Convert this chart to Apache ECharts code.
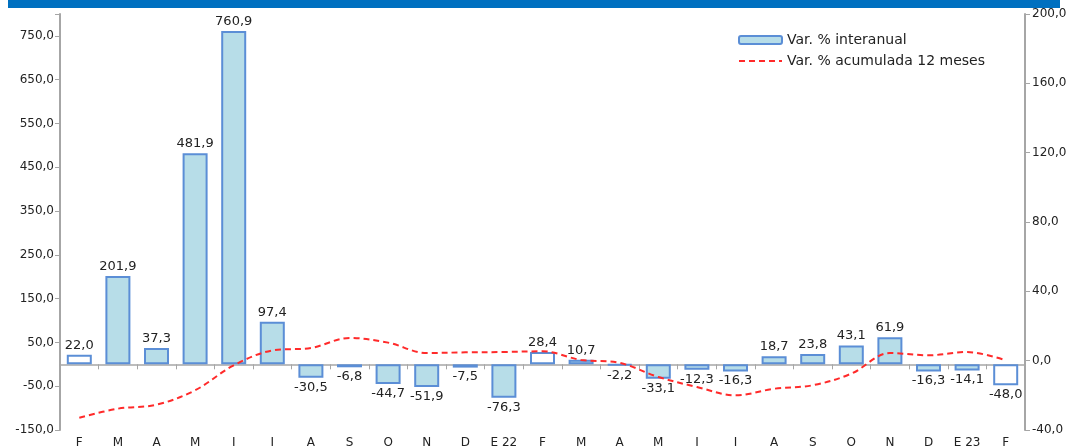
<!DOCTYPE html>
<html>
<head>
<meta charset="utf-8">
<script src="https://cdn.jsdelivr.net/npm/echarts@6/dist/echarts.min.js"></script>
<style>
  html, body { margin: 0; padding: 0; background: #fff; }
  #chart { width: 1067px; height: 446px; }
</style>
</head>
<body>
<div id="chart"></div>
<script>
// months, Feb 2021 .. Feb 2023
const categories = ['F','M','A','M','J','J','A','S','O','N','D','E 22','F','M','A','M','J','J','A','S','O','N','D','E 23','F']
// Var. % interanual (left axis)
const interanual = [22.0,201.9,37.3,481.9,760.9,97.4,-30.5,-6.8,-44.7,-51.9,-7.5,-76.3,28.4,10.7,-2.2,-33.1,-12.3,-16.3,18.7,23.8,43.1,61.9,-16.3,-14.1,-48.0]
// Var. % acumulada 12 meses (right axis)
const acumulada = [-32.9,-27.7,-25.4,-17.1,-2.7,5.9,7.3,13.1,10.4,4.4,4.8,5.0,5.4,0.4,-1.3,-9.4,-15.2,-20.0,-16.2,-14.2,-7.5,4.4,3.1,5.0,0.2]
// february bars are drawn hollow
const hollow = [0, 12, 24]

const fmt = v => v.toFixed(1).replace('.', ',')
const axisGrey = '#a6a6a6'
const font = 'DejaVu Sans, Verdana, sans-serif'
const txt = size => ({ color: '#222', fontSize: size, fontFamily: font })

const barData = interanual.map((v, i) => ({
  value: v,
  itemStyle: hollow.indexOf(i) >= 0 ? { color: '#ffffff' } : undefined,
  label: { position: v < 0 ? 'bottom' : 'top' }
}))

const chart = echarts.init(document.getElementById('chart'))
chart.setOption({
  animation: false,
  grid: { left: 60, right: 42, top: 14, bottom: 16, outerBoundsMode: 'none' },
  graphic: [{
    type: 'rect', left: 8, top: 0,
    shape: { width: 1052, height: 8 },
    style: { fill: '#0070c0' }
  }],
  legend: {
    orient: 'vertical', left: 738, top: 33, padding: 0,
    itemWidth: 43, itemHeight: 8, itemGap: 7,
    textStyle: txt(14),
    data: [
      { name: 'Var. % interanual' },
      { name: 'Var. % acumulada 12 meses', itemStyle: { opacity: 0 } }
    ]
  },
  xAxis: [{
    type: 'category', data: categories,
    axisLine: { onZero: true, onZeroAxisIndex: 0, lineStyle: { color: axisGrey, width: 1.5 } },
    axisTick: { show: true, length: 5, lineStyle: { color: axisGrey } },
    axisLabel: { show: false }
  }, {
    type: 'category', data: categories, position: 'bottom',
    axisLine: { show: false, onZero: false }, axisTick: { show: false },
    axisLabel: Object.assign({ margin: 7 }, txt(12))
  }],
  yAxis: [{
    type: 'value', min: -150, max: 800, interval: 100,
    splitLine: { show: false },
    axisLine: { show: true, lineStyle: { color: axisGrey, width: 2 } },
    axisTick: { show: true, length: 5, lineStyle: { color: axisGrey } },
    axisLabel: Object.assign({ margin: 6, formatter: v => v === 800 ? '' : fmt(v) }, txt(12))
  }, {
    type: 'value', min: -40, max: 200, interval: 40,
    splitLine: { show: false },
    axisLine: { show: true, lineStyle: { color: axisGrey, width: 2 } },
    axisTick: { show: true, length: 5, lineStyle: { color: axisGrey } },
    axisLabel: Object.assign({ margin: 7, formatter: fmt }, txt(12))
  }],
  series: [{
    name: 'Var. % interanual', type: 'bar',
    xAxisIndex: 0, yAxisIndex: 0, barWidth: 25,
    data: barData,
    itemStyle: { color: '#b7dde8', borderColor: '#5b8ed6', borderWidth: 2 },
    label: Object.assign({ show: true, distance: 3, formatter: p => fmt(p.value) }, txt(13))
  }, {
    name: 'Var. % acumulada 12 meses', type: 'line',
    xAxisIndex: 0, yAxisIndex: 1, smooth: 0.35,
    symbol: 'none', data: acumulada,
    itemStyle: { color: '#ff2a2a' },
    lineStyle: { color: '#ff2a2a', width: 2, type: [6, 4] }
  }]
})
</script>
</body>
</html>
